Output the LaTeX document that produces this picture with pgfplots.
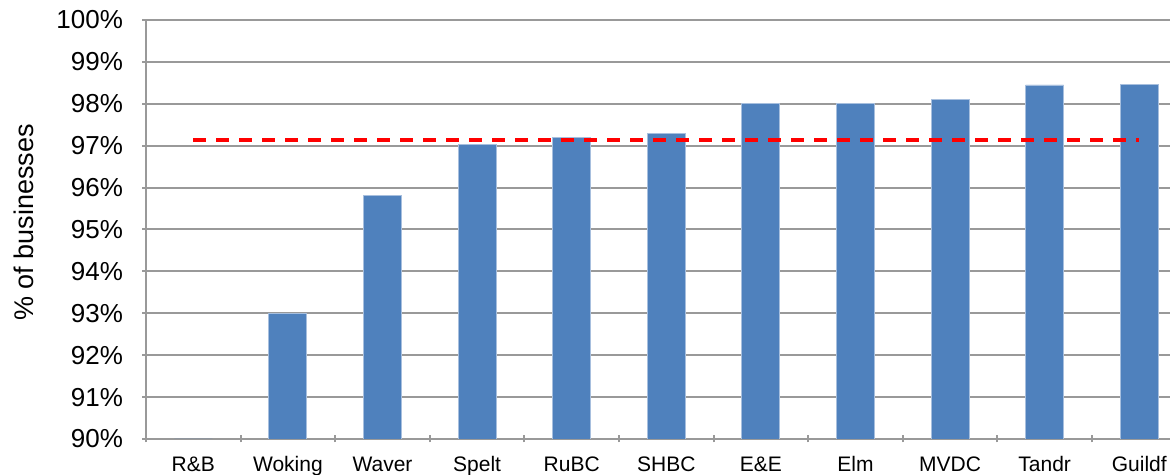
\documentclass[border=0pt]{standalone}
\usepackage{pgfplots}
\pgfplotsset{compat=1.18}
\usepackage{fontspec}
\setmainfont{Liberation Sans}
\definecolor{barblue}{HTML}{4F81BD}
\definecolor{baredge}{HTML}{A7BFDE}
\definecolor{gridgray}{HTML}{999999}
\begin{document}
\begin{tikzpicture}
\useasboundingbox (-73pt,-18pt) rectangle (512pt,219.5pt);
\clip (-73pt,-18pt) rectangle (512pt,219.5pt);
\begin{axis}[
  at={(0,0)}, anchor=south west,
  scale only axis,
  width=512pt, height=209.5pt,
  xmin=-0.5, xmax=10.325,
  ymin=90, ymax=100,
  ytick={90,91,...,100},
  yticklabel={\pgfmathprintnumber[fixed,precision=0]{\tick}\%},
  /pgf/number format/assume math mode=true,
  xtick={0,...,10},
  xticklabels={R\&B,Woking,Waver,Spelt,RuBC,SHBC,E\&E,Elm,MVDC,Tandr,Guildf},
  minor xtick={-0.5,0.5,...,9.5},
  major x tick style={draw=none},
  minor x tick style={draw=gridgray, line width=1pt},
  minor tick length=3.5pt,
  y tick style={draw=gridgray, line width=1pt},
  major tick length=4pt,
  tick align=outside,
  ymajorgrids,
  grid style={draw=gridgray, line width=1pt},
  axis lines=left,
  axis line style={-, draw=gridgray, line width=1pt},
  yticklabel style={font=\fontsize{13}{15}\selectfont, anchor=east, xshift=-6pt},
  xticklabel style={font=\fontsize{10.5}{12}\selectfont, anchor=north, yshift=-3pt, text height=0.75em, text depth=0.22em},
  every axis y label/.style={at={(axis description cs:-0.1192,0.517)}, rotate=90, anchor=center, font=\fontsize{13.5}{15}\selectfont},
  ylabel={\% of businesses},
  clip mode=individual,
]
\addplot[ybar, bar width=19pt, fill=barblue, draw=baredge, line width=0.4pt] coordinates {
  (0,89.97) (1,93.0) (2,95.82) (3,97.02) (4,97.2) (5,97.3) (6,98.0) (7,98.0) (8,98.1) (9,98.45) (10,98.47)
};
\addplot[red, line width=1.75pt, dash pattern=on 6.5pt off 5pt, mark=none] coordinates {
  (0,97.14) (10,97.14)
};
\end{axis}
\end{tikzpicture}
\end{document}
